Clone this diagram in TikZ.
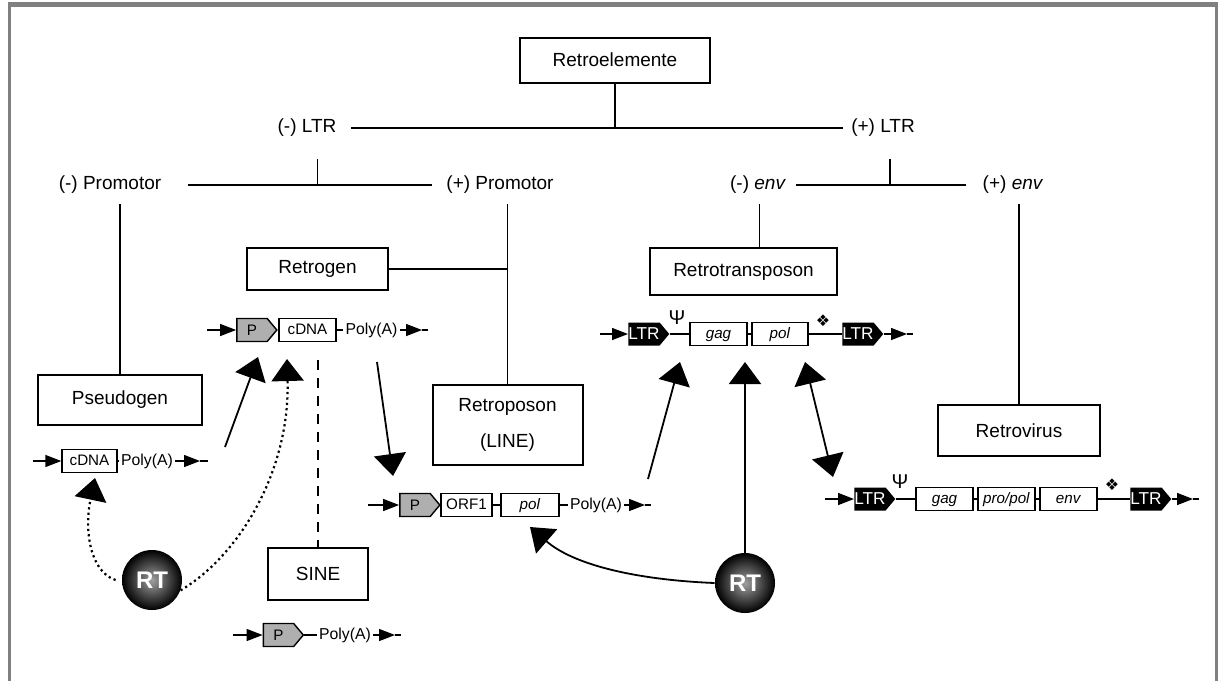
\documentclass[tikz,border=0pt]{standalone}
\usepackage{fontspec}
\setmainfont{Liberation Sans}
\newfontfamily\dingfont{DejaVu Sans}
\usetikzlibrary{arrows.meta,positioning,shapes.symbols}
\definecolor{framegray}{RGB}{128,128,128}
\definecolor{promgray}{RGB}{175,175,175}
\newcommand{\lblfont}{\fontsize{9.5}{11}\selectfont}
\newcommand{\genefont}{\fontsize{7.6}{9}\selectfont}

\tikzset{
  classbox/.style={draw,line width=1pt,inner sep=0pt,font=\lblfont},
  treelbl/.style={inner sep=1pt,font=\lblfont},
  treeline/.style={line width=0.8pt},
  backbone/.style={line width=0.7pt},
  smalltip/.style={-{Triangle[length=8pt,width=6pt]}},
  genebox/.style={draw,line width=0.7pt,minimum height=11.5pt,inner sep=0pt,
    text height=5.6pt,text depth=1.4pt,font=\genefont},
  promo/.style={signal,signal to=east,signal pointer angle=100,draw,line width=0.7pt,
    fill=promgray,minimum width=20pt,minimum height=11.5pt,inner sep=0pt,
    text height=5.6pt,text depth=0.6pt,font=\genefont},
  ltrbox/.style={signal,signal to=east,signal pointer angle=100,fill=black,text=white,
    minimum width=20pt,minimum height=11.5pt,inner sep=0pt,text height=6pt,text depth=0.5pt,
    font=\fontsize{8.6}{9}\selectfont},
  polya/.style={inner sep=1pt,text height=5.6pt,text depth=1.6pt,font=\fontsize{7.9}{9}\selectfont},
  bigarrow/.style={line width=0.9pt,-{Triangle[length=11pt,width=16pt]}},
  dotarrow/.style={line width=1.1pt,dash pattern=on 1.1pt off 1.6pt,
    -{Triangle[length=11pt,width=16pt]}},
  rtball/.style={circle,minimum size=30pt,inner sep=0pt,inner color=gray!75,
    outer color=black,text=white,font=\fontsize{12}{14}\selectfont\bfseries},
}

\begin{document}
\begin{tikzpicture}[x=0.5pt,y=-0.5pt]
  \useasboundingbox (0,0) rectangle (1218,681);
  % frame
  \draw[framegray,line width=2.5pt] (8,4) -- (1218,4);
  \draw[framegray,line width=1.5pt] (9.5,4) -- (9.5,681);
  \draw[framegray,line width=1.5pt] (1216.5,4) -- (1216.5,681);

  % classification
  \node[classbox,minimum width=95pt,minimum height=22.5pt] (root) at (615,60) {Retroelemente};
  \node[treelbl] (mltr) at (307,128) {(-) LTR};
  \node[treelbl] (pltr) at (883,128) {(+) LTR};
  \node[treelbl] (mprom) at (110,185) {(-) Promotor};
  \node[treelbl] (pprom) at (500,185) {(+) Promotor};
  \node[treelbl] (menv) at (758,185) {(-) \textit{env}};
  \node[treelbl] (penv) at (1013,185) {(+) \textit{env}};

  \node[classbox,minimum width=70.5pt,minimum height=21pt] (retrogen) at (317.5,269) {Retrogen};
  \node[classbox,minimum width=93.5pt,minimum height=23.5pt] (retrotrans) at (743.5,271.5) {Retrotransposon};
  \node[classbox,minimum width=82pt,minimum height=25pt] (pseudo) at (120,400) {Pseudogen};
  \node[classbox,minimum width=75pt,minimum height=40pt,align=center] (retroposon) at (507.5,425)
    {Retroposon\\[7pt](LINE)};
  \node[classbox,minimum width=81pt,minimum height=25.5pt] (retrovirus) at (1019,430.5) {Retrovirus};
  \node[classbox,minimum width=50pt,minimum height=26pt] (sine) at (318,574) {SINE};

  \draw[treeline] (root.south) -- (root.south |- mltr);
  \draw[treeline] ([xshift=6pt]mltr.east) -- ([xshift=-3pt]pltr.west);
  \draw[treeline] ([yshift=-10pt]retrogen.north |- mltr.south) -- (retrogen.north |- mprom);
  \draw[treeline] ([yshift=-10pt]pltr.south) ++(3.5pt,0) -- ([xshift=3.5pt]pltr.south |- menv);
  \draw[treeline] ([xshift=12pt]mprom.east) -- ([xshift=-6pt]pprom.west);
  \draw[treeline] ([xshift=4pt]menv.east) -- ([xshift=-7pt]penv.west);
  \draw[treeline] ([yshift=-4pt]pseudo.north |- mprom.south) -- (pseudo.north);
  \draw[treeline] ([yshift=-4pt]retroposon.north |- pprom.south) -- (retroposon.north);
  \draw[treeline] (retrogen.east) -- (retrogen.east -| retroposon.north);
  \coordinate (envj) at ([xshift=8pt]retrotrans.north);
  \draw[treeline] ([yshift=-4pt]envj |- menv.south) -- (envj);
  \draw[treeline] ([yshift=-4pt]retrovirus.north |- penv.south) -- (retrovirus.north);
  \draw[dashed,line width=1.1pt,dash pattern=on 5pt off 4pt] (318,360) -- (sine.north);

  % retrogen construct
  \coordinate (rgs) at (207,330);
  \node[promo] (rgp) at (252,330) {P};
  \node[genebox,minimum width=28.5pt] (rgc) at (307.5,330) {cDNA};
  \node[polya] (rga) at (371.5,330) {Poly(A)};
  \coordinate (rgt) at (422,330);
  \coordinate (rge) at (428,330);
  \draw[backbone,smalltip] (rgs) -- (rgp.west);
  \draw[backbone] (rgp.east) -- (rgc.west) (rgc.east) -- (rga.west);
  \draw[backbone,smalltip] (rga.east) -- (rgt);
  \draw[backbone] (rgt) -- (rge);

  % pseudogen construct
  \coordinate (pgs) at (33,461);
  \node[genebox,minimum width=27.5pt] (pgc) at (89.5,461) {cDNA};
  \node[polya] (pga) at (147,461) {Poly(A)};
  \coordinate (pgt) at (200,461);
  \coordinate (pge) at (208,461);
  \draw[backbone,smalltip] (pgs) -- (pgc.west);
  \draw[backbone] (pgc.east) -- (pga.west);
  \draw[backbone,smalltip] (pga.east) -- (pgt);
  \draw[backbone] (pgt) -- (pge);

  % LINE construct
  \coordinate (lis) at (368,505);
  \node[promo] (lip) at (415,505) {P};
  \node[genebox,minimum width=25.5pt] (lio) at (466.5,505) {ORF1};
  \node[genebox,minimum width=29pt] (lipol) at (530,505) {\textit{pol}};
  \node[polya] (lia) at (596,505) {Poly(A)};
  \coordinate (lit) at (645,505);
  \coordinate (lie) at (651,505);
  \draw[backbone,smalltip] (lis) -- (lip.west);
  \draw[backbone] (lip.east) -- (lio.west) (lio.east) -- (lipol.west) (lipol.east) -- (lia.west);
  \draw[backbone,smalltip] (lia.east) -- (lit);
  \draw[backbone] (lit) -- (lie);

  % SINE construct
  \coordinate (sis) at (233,635);
  \node[promo] (sip) at (278.5,635) {P};
  \node[polya] (sia) at (345,635) {Poly(A)};
  \coordinate (sit) at (395,635);
  \coordinate (sie) at (401,635);
  \draw[backbone,smalltip] (sis) -- (sip.west);
  \draw[backbone] (sip.east) -- (sia.west);
  \draw[backbone,smalltip] (sia.east) -- (sit);
  \draw[backbone] (sit) -- (sie);

  % retrotransposon construct
  \coordinate (rts) at (600,334);
  \node[ltrbox] (rtl1) at (644,334) {LTR};
  \node[font=\fontsize{10}{12}\selectfont,inner sep=0pt] (rtpsi) at (677,318) {Ψ};
  \node[genebox,minimum width=28.5pt] (rtgag) at (718.5,334) {\textit{gag}};
  \node[genebox,minimum width=28pt] (rtpol) at (780,334) {\textit{pol}};
  \node[font=\dingfont\fontsize{8}{9}\selectfont,inner sep=0pt] (rtpack) at (823,321) {❖};
  \node[ltrbox] (rtl2) at (858,334) {LTR};
  \coordinate (rtt) at (907,334);
  \coordinate (rte) at (913,334);
  \draw[backbone,smalltip] (rts) -- (rtl1.west);
  \draw[backbone] (rtl1.east) -- (rtgag.west) (rtgag.east) -- (rtpol.west) (rtpol.east) -- (rtl2.west);
  \draw[backbone,smalltip] (rtl2.east) -- (rtt);
  \draw[backbone] (rtt) -- (rte);

  % retrovirus construct
  \coordinate (rvs) at (825,499);
  \node[ltrbox] (rvl1) at (870,499) {LTR};
  \node[font=\fontsize{10}{12}\selectfont,inner sep=0pt] (rvpsi) at (900,482) {Ψ};
  \node[genebox,minimum width=28.5pt] (rvgag) at (944.5,499) {\textit{gag}};
  \node[genebox,minimum width=28.5pt] (rvpro) at (1006.5,499) {\textit{pro/pol}};
  \node[genebox,minimum width=28.5pt] (rvenv) at (1068.5,499) {\textit{env}};
  \node[font=\dingfont\fontsize{8}{9}\selectfont,inner sep=0pt] (rvpack) at (1112,485) {❖};
  \node[ltrbox] (rvl2) at (1146,499) {LTR};
  \coordinate (rvt) at (1193,499);
  \coordinate (rve) at (1199,499);
  \draw[backbone,smalltip] (rvs) -- (rvl1.west);
  \draw[backbone] (rvl1.east) -- (rvgag.west) (rvgag.east) -- (rvpro.west)
    (rvpro.east) -- (rvenv.west) (rvenv.east) -- (rvl2.west);
  \draw[backbone,smalltip] (rvl2.east) -- (rvt);
  \draw[backbone] (rvt) -- (rve);

  % reverse transcriptase
  \node[rtball] (rt1) at (152,580) {RT};
  \node[rtball] (rt2) at (745,583) {RT};

  % transfers
  \coordinate (upA) at (225,447);
  \coordinate (upAt) at (258,357);
  \coordinate (dnA) at (377,362);
  \coordinate (dnAt) at (393,476);
  \coordinate (liup) at (648,479);
  \coordinate (liupt) at (680,362);
  \coordinate (rtup) at (745,362);
  \coordinate (dbA) at (805,362);
  \coordinate (dbB) at (833,477);
  \coordinate (rtcur) at (530,527);
  \coordinate (dotR) at (287,359);
  \coordinate (dotL) at (95,478);
  \draw[bigarrow] (upA) -- (upAt);
  \draw[bigarrow] (dnA) -- (dnAt);
  \draw[bigarrow] (liup) -- (liupt);
  \draw[bigarrow] (rt2.north) -- (rtup);
  \draw[line width=0.9pt,{Triangle[length=11pt,width=16pt]}-{Triangle[length=11pt,width=16pt]}] (dbA) -- (dbB);
  \draw[bigarrow] (rt2.west) .. controls (640,580) and (575,566) .. (rtcur);
  \draw[dotarrow] (rt1.-20) .. controls (240,555) and (290,470) .. (dotR);
  \draw[dotarrow] ([xshift=-3pt]rt1.west) .. controls (90,572) and (84,530) .. (dotL);
\end{tikzpicture}
\end{document}
